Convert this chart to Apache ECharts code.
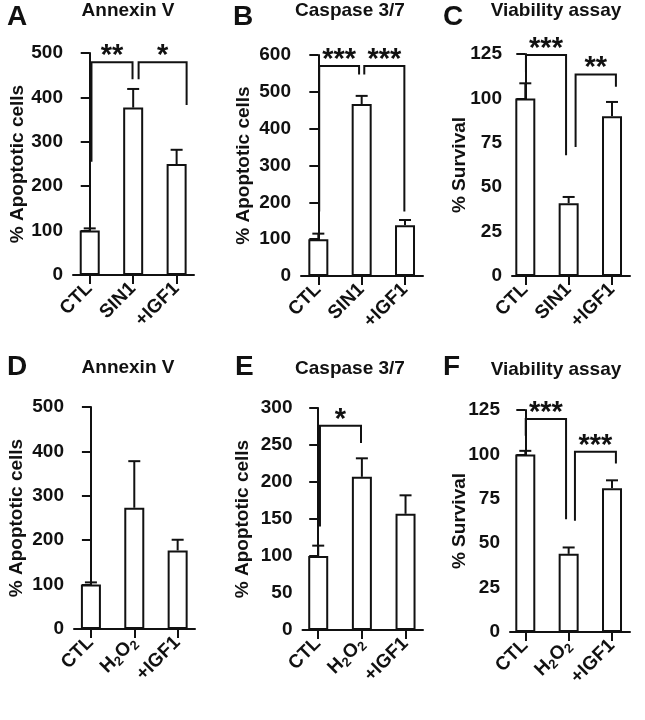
<!DOCTYPE html>
<html><head><meta charset="utf-8">
<script src="https://cdn.jsdelivr.net/npm/echarts@6/dist/echarts.min.js"></script>
<style>html,body{margin:0;padding:0;background:#fff}#c{width:645px;height:720px}</style>
</head><body><div id="c"></div>
<script>
// ---- data ----
const catsSIN1 = ['CTL', 'SIN1', '+IGF1'];
const catsH2O2 = ['CTL', 'H2O2', '+IGF1'];

const annexinSIN1Mean = [100, 377, 250];
const annexinSIN1Sem  = [5, 42, 32];
const caspaseSIN1Mean = [100, 467, 138];
const caspaseSIN1Sem  = [15, 22, 14];
const viabilitySIN1Mean = [100, 41, 90];
const viabilitySIN1Sem  = [8.5, 3.5, 8];

const annexinH2O2Mean = [100, 273, 177];
const annexinH2O2Sem  = [5, 105, 24];
const caspaseH2O2Mean = [100, 207, 157];
const caspaseH2O2Sem  = [14, 25, 25];
const viabilityH2O2Mean = [100, 44, 81];
const viabilityH2O2Sem  = [2, 3.6, 4.4];

// significance brackets: [xLeft, yLeftEnd, xRight, yRightEnd, yTop] and their labels
const bracketsA = [[0.04, 255, 0.985, 441, 479], [1.125, 441, 2.23, 383, 479]];
const starsA = ['**', '*'];
const bracketsB = [[0.02, 175, 0.94, 547, 570], [1.06, 547, 1.985, 175, 570]];
const starsB = ['***', '***'];
const bracketsC = [[0.015, 114.7, 0.94, 68, 124.4], [1.16, 72.7, 2.09, 106.6, 113.5]];
const starsC = ['***', '**'];
const bracketsD = [];
const starsD = [];
const bracketsE = [[0.04, 140, 0.98, 252.6, 276]];
const starsE = ['*'];
const bracketsF = [[0.01, 110.5, 0.94, 63.5, 119.9], [1.145, 62.6, 2.09, 94.9, 101.5]];
const starsF = ['***', '***'];

const panelLetters = ['A', 'B', 'C', 'D', 'E', 'F'];
const panelTitles = ['Annexin V', 'Caspase 3/7', 'Viability assay', 'Annexin V', 'Caspase 3/7', 'Viability assay'];
const yNames = ['% Apoptotic cells', '% Apoptotic cells', '% Survival', '% Apoptotic cells', '% Apoptotic cells', '% Survival'];
const yMaxes = [500, 600, 125, 500, 300, 125];
const yIntervals = [100, 100, 25, 100, 50, 25];

// ---- assembly ----
const FONT = "'Liberation Sans', Arial, Helvetica, sans-serif";
const INK = '#111';
const panels = [
  {cats: catsSIN1, mean: annexinSIN1Mean, sem: annexinSIN1Sem, br: bracketsA, st: starsA},
  {cats: catsSIN1, mean: caspaseSIN1Mean, sem: caspaseSIN1Sem, br: bracketsB, st: starsB},
  {cats: catsSIN1, mean: viabilitySIN1Mean, sem: viabilitySIN1Sem, br: bracketsC, st: starsC},
  {cats: catsH2O2, mean: annexinH2O2Mean, sem: annexinH2O2Sem, br: bracketsD, st: starsD},
  {cats: catsH2O2, mean: caspaseH2O2Mean, sem: caspaseH2O2Sem, br: bracketsE, st: starsE},
  {cats: catsH2O2, mean: viabilityH2O2Mean, sem: viabilityH2O2Sem, br: bracketsF, st: starsF}
];
// layout (pixels) per panel
const layout = [
  {left: 73, top: 53, width: 121, height: 222, xMin: -0.385, xMax: 2.40, nameGap: 46, lx: 7, ly: 17, tx: 128, ty: 11},
  {left: 301, top: 55, width: 122, height: 221, xMin: -0.40, xMax: 2.415, nameGap: 48, lx: 233, ly: 17, tx: 350, ty: 11},
  {left: 512, top: 54, width: 118, height: 222, xMin: -0.307, xMax: 2.415, nameGap: 43, lx: 443, ly: 17, tx: 556, ty: 11},
  {left: 74, top: 407, width: 121, height: 222, xMin: -0.39, xMax: 2.40, nameGap: 48, lx: 7, ly: 367, tx: 128, ty: 368},
  {left: 302.5, top: 408, width: 120.5, height: 222, xMin: -0.36, xMax: 2.40, nameGap: 50, lx: 235, ly: 367, tx: 350, ty: 369},
  {left: 510, top: 410, width: 120, height: 222, xMin: -0.353, xMax: 2.415, nameGap: 41, lx: 443, ly: 367, tx: 556, ty: 370}
];

function catLabel(name) {
  if (name === 'H2O2') return '{n|H}{s|2}{n|O}{s|2}';
  return '{n|' + name + '}';
}

const grids = [], xAxes = [], yAxes = [], series = [], graphics = [];
panels.forEach((p, i) => {
  const L = layout[i];
  grids.push({left: L.left, top: L.top, width: L.width, height: L.height, containLabel: false});
  xAxes.push({
    type: 'value', gridIndex: i, min: L.xMin, max: L.xMax,
    splitLine: {show: false},
    axisLine: {show: true, onZero: false, lineStyle: {color: INK, width: 2}},
    axisTick: {show: true, customValues: [0, 1, 2], length: 9, lineStyle: {color: INK, width: 2}},
    axisLabel: {
      customValues: [0, 1, 2], rotate: 45, margin: 11,
      formatter: (v) => catLabel(p.cats[Math.round(v)]),
      rich: {
        n: {fontFamily: FONT, fontSize: 19, fontWeight: 'bold', color: INK, lineHeight: 20, verticalAlign: 'top'},
        s: {fontFamily: FONT, fontSize: 13, fontWeight: 'bold', color: INK, lineHeight: 13, padding: [8, 0, 0, 0], verticalAlign: 'top'}
      }
    }
  });
  yAxes.push({
    type: 'value', gridIndex: i, min: 0, max: yMaxes[i], interval: yIntervals[i],
    splitLine: {show: false},
    axisLine: {show: true, lineStyle: {color: INK, width: 2}},
    axisTick: {show: true, length: 9, lineStyle: {color: INK, width: 2}},
    axisLabel: {fontFamily: FONT, fontSize: 19, fontWeight: 'bold', color: INK, margin: 10},
    name: yNames[i], nameLocation: 'middle', nameGap: L.nameGap, nameMoveOverlap: false,
    nameTextStyle: {fontFamily: FONT, fontSize: 19, fontWeight: 'bold', color: INK}
  });
  series.push({
    type: 'bar', xAxisIndex: i, yAxisIndex: i, barWidth: 20,
    data: p.mean.map((v, k) => [k, v]),
    itemStyle: {color: '#fff', borderColor: INK, borderWidth: 2},
    silent: true, z: 2
  });
  series.push({
    type: 'custom', xAxisIndex: i, yAxisIndex: i, z: 3, silent: true,
    data: p.mean.map((v, k) => [k, v, p.sem[k]]),
    encode: {x: 0, y: 1},
    renderItem: (params, api) => {
      const x = api.value(0), m = api.value(1), e = api.value(2);
      const a = api.coord([x, m]), b = api.coord([x, m + e]);
      return {type: 'group', children: [
        {type: 'line', shape: {x1: a[0], y1: a[1], x2: b[0], y2: b[1]}, style: {stroke: INK, lineWidth: 2}},
        {type: 'line', shape: {x1: b[0] - 6, y1: b[1], x2: b[0] + 6, y2: b[1]}, style: {stroke: INK, lineWidth: 2}}
      ]};
    }
  });
  if (p.br.length) {
    series.push({
      type: 'custom', xAxisIndex: i, yAxisIndex: i, z: 4, silent: true, clip: false,
      data: p.br,
      encode: {x: 0, y: 1},
      renderItem: (params, api) => {
        const xl = api.value(0), yl = api.value(1), xr = api.value(2), yr = api.value(3), yt = api.value(4);
        const pl = api.coord([xl, yl]), plt = api.coord([xl, yt]), prt = api.coord([xr, yt]), pr = api.coord([xr, yr]);
        return {type: 'group', children: [
          {type: 'polyline', shape: {points: [pl, plt, prt, pr]}, style: {stroke: INK, lineWidth: 2, fill: null}},
          {type: 'text', x: (plt[0] + prt[0]) / 2, y: plt[1] - 6,
           style: {text: p.st[params.dataIndex], fontFamily: FONT, fontSize: 29, fontWeight: 'bold', fill: INK, align: 'center', verticalAlign: 'middle'}}
        ]};
      }
    });
  }
  graphics.push({type: 'text', x: L.lx, y: L.ly, style: {text: panelLetters[i], fontFamily: FONT, fontSize: 28, fontWeight: 'bold', fill: INK, align: 'left', verticalAlign: 'middle'}});
  graphics.push({type: 'text', x: L.tx, y: L.ty, style: {text: panelTitles[i], fontFamily: FONT, fontSize: 19, fontWeight: 'bold', fill: INK, align: 'center', verticalAlign: 'middle'}});
});

const chart = echarts.init(document.getElementById('c'), null, {renderer: 'canvas'});
chart.setOption({
  animation: false,
  backgroundColor: '#fff',
  grid: grids, xAxis: xAxes, yAxis: yAxes, series: series, graphic: graphics
});
</script>
</body></html>
